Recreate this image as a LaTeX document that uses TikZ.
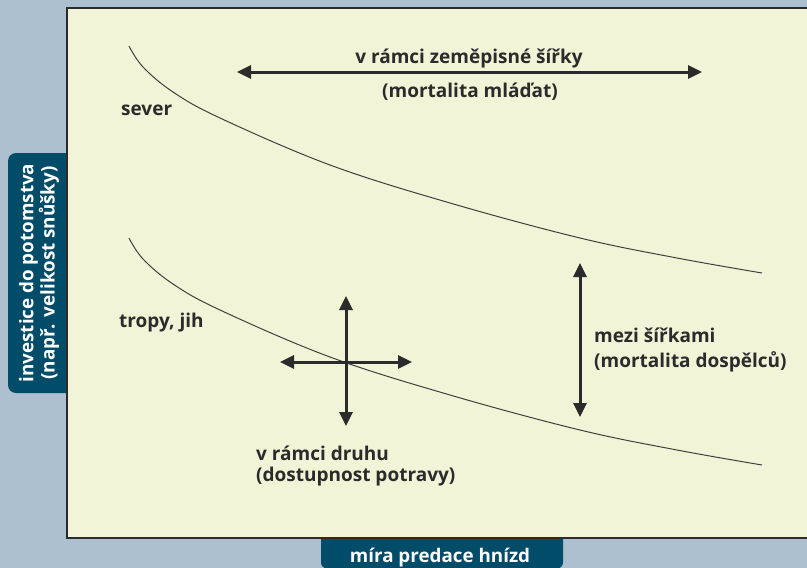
\documentclass[tikz,border=0pt]{standalone}
\usepackage{fontspec}
\setmainfont{Open Sans}
\usetikzlibrary{arrows.meta}
\definecolor{bgblue}{HTML}{ADC0D0}
\definecolor{panelcol}{HTML}{F1F4D6}
\definecolor{tealbox}{HTML}{004C69}
\definecolor{ink}{HTML}{2B2B2B}
\tikzset{
  lbl/.style={text=ink,font=\bfseries\fontsize{19}{20}\selectfont,inner sep=0pt},
  axlbl/.style={text=white,font=\bfseries\fontsize{18.8}{18}\selectfont,inner sep=0pt,align=center},
  dblarrow/.style={draw=ink,line width=3pt,{Triangle[length=14pt,width=13pt]}-{Triangle[length=14pt,width=13pt]}},
  curve/.style={draw=ink!90,line width=1pt}
}
\begin{document}
\begin{tikzpicture}[x=1pt,y=-1pt]
\useasboundingbox (0,0) rectangle (807,568);
\fill[bgblue] (0,0) rectangle (807,568);
% axis label boxes
\fill[tealbox,rounded corners=8pt] (8,153) rectangle (90,393);
\fill[tealbox,rounded corners=6pt] (321,520) rectangle (563,568.5);
% panel
\filldraw[fill=panelcol,draw=ink,line width=1.6pt] (67,8) rectangle (815,538);
% axis labels
\node[axlbl,rotate=90] (ylab) at (39,273) {investice do potomstva\\(např. velikost snůšky)};
\node[axlbl,anchor=base] (xlab) at (440,562) {míra predace hnízd};
% curves
\draw[curve] plot[smooth,tension=0.6] coordinates {(129,46) (143,67) (173,92) (220,118) (330,165) (450,203) (580,238) (677,258) (762,273)};
\draw[curve] plot[smooth,tension=0.6] coordinates {(129,238) (143,259) (173,284) (220,310) (330,357) (450,395) (580,430) (677,450) (762,465)};
% curve labels
\node[lbl,anchor=base west] (sever) at (121,115) {sever};
\node[lbl,anchor=base west] (tropy) at (119,327) {tropy, jih};
% horizontal arrow
\coordinate (hL) at (237,72);
\coordinate (hR) at (702,72);
\draw[dblarrow] (hL) -- (hR);
\node[lbl,anchor=base] (t1) at (469,63) {v rámci zeměpisné šířky};
\node[lbl,anchor=base] (t2) at (470,97) {(mortalita mláďat)};
% vertical arrow
\coordinate (vT) at (580,263);
\coordinate (vB) at (580,417);
\draw[dblarrow] (vT) -- (vB);
\node[lbl,anchor=base west] (t3) at (594,342) {mezi šířkami};
\node[lbl,anchor=base west] (t4) at (594,367) {(mortalita dospělců)};
% cross
\coordinate (cT) at (346,296);
\coordinate (cB) at (346,426);
\coordinate (cL) at (280,362);
\coordinate (cR) at (412,362);
\draw[dblarrow] (cT) -- (cB);
\draw[dblarrow] (cL) -- (cR);
\node[lbl,anchor=base west] (t5) at (256,460) {v rámci druhu};
\node[lbl,anchor=base west] (t6) at (256,481) {(dostupnost potravy)};
\end{tikzpicture}
\end{document}
